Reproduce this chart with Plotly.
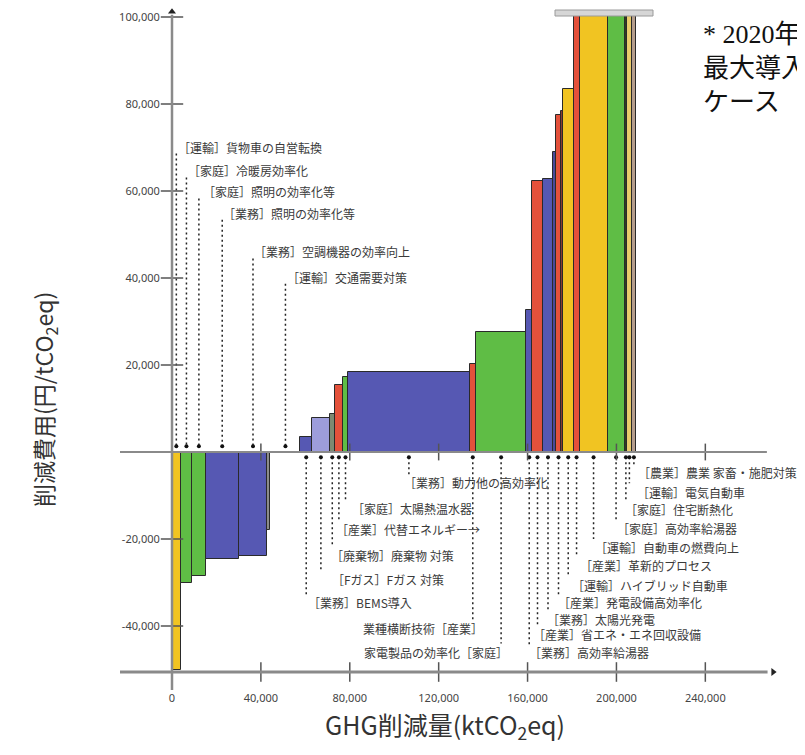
import plotly.graph_objects as go

# ---------------- data ----------------
sectors = ["運輸", "家庭", "家庭", "業務", "業務", "その他", "運輸", "業務", "Fガス", "廃棄物",
           "産業", "家庭", "業務", "産業", "家庭", "業務", "産業", "業務", "業務", "産業",
           "産業", "運輸", "産業", "運輸", "家庭", "家庭", "運輸", "農業"]
reduction_kt = [3900, 5200, 6000, 15000, 12700, 1500, 13500, 5200, 8000, 2250,
                3700, 2250, 54800, 2700, 22800, 2500, 4950, 4500, 1500, 1950,
                1000, 4800, 2700, 12600, 7650, 1200, 1950, 2100]
cost_yen = [-50000, -30000, -28500, -24500, -24000, -18000, 0, 3400, 7750, 8650,
            15400, 17300, 18450, 20150, 27650, 32650, 62300, 62750, 69000, 77500,
            78500, 83500, 100500, 100500, 100500, 100500, 100500, 100500]

x_ticks = [0, 40000, 80000, 120000, 160000, 200000, 240000]
x_tick_text = ["0", "40,000", "80,000", "120,000", "160,000", "200,000", "240,000"]
y_ticks = [-40000, -20000, 20000, 40000, 60000, 80000, 100000]
y_tick_text = ["-40,000", "-20,000", "20,000", "40,000", "60,000", "80,000", "100,000"]

# labels: (bar index, text)
label_bar = [0, 1, 2, 3, 4, 6,
             12, 11, 10, 9, 8, 7, 13, 14,
             15, 16, 17, 19, 21, 22, 23, 24, 25, 26, 27]
label_text = ["［運輸］貨物車の自営転換", "［家庭］冷暖房効率化", "［家庭］照明の効率化等",
              "［業務］照明の効率化等", "［業務］空調機器の効率向上", "［運輸］交通需要対策",
              "［業務］動力他の高効率化", "［家庭］太陽熱温水器", "［産業］代替エネルギー→",
              "［廃棄物］廃棄物 対策", "［Fガス］Fガス 対策", "［業務］BEMS導入",
              "業種横断技術［産業］", "家電製品の効率化［家庭］",
              "［業務］高効率給湯器", "［産業］省エネ・エネ回収設備", "［業務］太陽光発電",
              "［産業］発電設備高効率化", "［運輸］ハイブリッド自動車", "［産業］革新的プロセス",
              "［運輸］自動車の燃費向上", "［家庭］高効率給湯器", "［家庭］住宅断熱化",
              "［運輸］電気自動車", "［農業］農業 家畜・施肥対策"]

# ---------------- layout / style ----------------
sector_color = {"運輸": "#f1c422", "家庭": "#5fbd45", "業務": "#5658b3", "産業": "#e4513b",
                "Fガス": "#9d9ddb", "廃棄物": "#7d8a72", "その他": "#8c8c8c", "農業": "#b59d8c"}
bar_colors = [sector_color[s] for s in sectors]
bar_colors[18] = "#4a4a9a"
bar_colors[20] = "#8a3a30"
bar_colors[25] = "#2f3d1f"
bar_colors[26] = "#e9cb6a"

label_y = [70100, 64600, 59800, 54900, 46000, 40200,
           -7100, -12900, -17900, -23700, -29200, -34700, -40500, -46000,
           -46200, -42000, -38400, -34700, -30600, -26200, -22000, -17700, -13300, -9200, -4800]
label_anchor = ["left"] * 12 + ["right", "right"] + ["left"] * 11
label_dx = [0, 0, 2, -1, -1, 0,
            -7, 4, -5, -3, 9, 0, 12, 9,
            -2, -7, -3, -3, 2, 1, -1, -1, -3, 6, 2]
n_top = 6

# page is drawn with an 8px body margin -> figure is 8px smaller
W, H = 797, 747
ML, MR, MT, MB = 92, 0, 0, 50
X_MIN, X_MAX = -32400, 284850
Y_MIN, Y_MAX = -58161, 102069
Y_BOTTOM_AXIS = -50575
X_LINE_START = -23400

pw, ph = W - ML - MR, H - MT - MB


def px_to_paper_x(px):
    return (px - ML) / pw


def px_to_paper_y(py):
    return (H - MB - py) / ph


# ---------------- geometry from data ----------------
lefts = []
acc = 0
for w in reduction_kt:
    lefts.append(acc)
    acc += w
centers = [l + w / 2 for l, w in zip(lefts, reduction_kt)]

fig = go.Figure()

fig.add_trace(go.Bar(
    x=centers, y=cost_yen, width=reduction_kt, base=0,
    marker=dict(color=bar_colors, line=dict(color="#2a2a2a", width=1)),
    hoverinfo="skip", showlegend=False,
))

# leader lines
lx, ly, mx, my = [], [], [], []
for i, (b, yv) in enumerate(zip(label_bar, label_y)):
    cx = centers[b]
    if i < n_top:
        lx += [cx, cx, None]
        ly += [yv - 1500, 1300, None]
        mx.append(cx); my.append(1300)
    else:
        lx += [cx, cx, None]
        ly += [-1200, yv + 2000, None]
        mx.append(cx); my.append(-1200)
fig.add_trace(go.Scatter(x=lx, y=ly, mode="lines",
                         line=dict(color="#222222", width=1.5, dash="2px,3px"),
                         hoverinfo="skip", showlegend=False))
fig.add_trace(go.Scatter(x=mx, y=my, mode="markers",
                         marker=dict(color="#111111", size=4),
                         hoverinfo="skip", showlegend=False))

# axis lines
axis_col = "#8a8a8a"
fig.add_shape(type="line", x0=0, x1=0, y0=-54700, y1=100500, line=dict(color=axis_col, width=2.5))
fig.add_shape(type="line", x0=X_LINE_START, x1=267700, y0=0, y1=0, line=dict(color=axis_col, width=2))
fig.add_shape(type="line", x0=X_LINE_START, x1=268000, y0=Y_BOTTOM_AXIS, y1=Y_BOTTOM_AXIS,
              line=dict(color=axis_col, width=3))
# off-scale cap
fig.add_shape(type="rect", x0=172350, x1=216450, y0=100230, y1=101610,
              fillcolor="#d6d6d6", line=dict(color="#9a9a9a", width=1))

# tick marks (crossing)
tick_col = "#555555"
fig.add_trace(go.Scatter(x=x_ticks[1:], y=[0] * (len(x_ticks) - 1), mode="markers",
                         marker=dict(symbol="line-ns-open", size=12, color=tick_col,
                                     line=dict(color=tick_col, width=1.5)),
                         hoverinfo="skip", showlegend=False))
fig.add_trace(go.Scatter(x=x_ticks, y=[Y_BOTTOM_AXIS] * len(x_ticks), mode="markers",
                         marker=dict(symbol="line-ns-open", size=14, color=tick_col,
                                     line=dict(color=tick_col, width=1.5)),
                         hoverinfo="skip", showlegend=False))
fig.add_trace(go.Scatter(x=[0] * len(y_ticks), y=y_ticks, mode="markers",
                         marker=dict(symbol="line-ew-open", size=16, color=tick_col,
                                     line=dict(color=tick_col, width=1.5)),
                         hoverinfo="skip", showlegend=False))
# arrow heads
fig.add_trace(go.Scatter(x=[0, 270500], y=[101200, Y_BOTTOM_AXIS], mode="markers",
                         marker=dict(symbol=["triangle-up", "triangle-right"], size=7, color="#222"),
                         hoverinfo="skip", showlegend=False))

label_font = dict(family="Noto Sans CJK JP", size=12, color="#3a3a3a")
for b, txt, yv, anc, dx in zip(label_bar, label_text, label_y, label_anchor, label_dx):
    fig.add_annotation(x=centers[b], y=yv, xref="x", yref="y", text=txt, showarrow=False,
                       xanchor=anc, yanchor="middle", xshift=dx, font=label_font)

fig.add_annotation(xref="paper", yref="paper", x=px_to_paper_x(36), y=px_to_paper_y(392),
                   xanchor="center", yanchor="middle",
                   text="削減費用(円/tCO<sub>2</sub>eq)", textangle=-90, showarrow=False,
                   font=dict(family="Noto Sans CJK JP", size=23, color="#333"))
fig.add_annotation(xref="paper", yref="paper", x=px_to_paper_x(315), y=px_to_paper_y(718),
                   xanchor="left", yanchor="middle",
                   text="GHG削減量(ktCO<sub>2</sub>eq)", showarrow=False,
                   font=dict(family="Noto Sans CJK JP", size=25, color="#333"))
fig.add_annotation(xref="paper", yref="paper", x=px_to_paper_x(693), y=px_to_paper_y(10),
                   xanchor="left", yanchor="top", align="left",
                   text="* 2020年<br>最大導入<br>ケース", showarrow=False,
                   font=dict(family="Liberation Serif, Noto Sans CJK JP", size=26, color="#111"))

fig.update_layout(
    width=W, height=H, margin=dict(l=ML, r=MR, t=MT, b=MB),
    paper_bgcolor="white", plot_bgcolor="white", barmode="overlay", bargap=0,
    xaxis=dict(range=[X_MIN, X_MAX], showgrid=False, zeroline=False, showline=False,
               tickmode="array", tickvals=x_ticks, ticktext=x_tick_text,
               ticks="outside", ticklen=16, tickcolor="rgba(0,0,0,0)",
               anchor="free", position=px_to_paper_y(664),
               tickfont=dict(family="Noto Sans", size=11, color="#444")),
    yaxis=dict(range=[Y_MIN, Y_MAX], showgrid=False, zeroline=False, showline=False,
               tickmode="array", tickvals=y_ticks, ticktext=y_tick_text,
               ticks="outside", ticklen=10, tickcolor="rgba(0,0,0,0)",
               anchor="free", position=px_to_paper_x(164),
               tickfont=dict(family="Noto Sans", size=11, color="#444")),
)

fig.write_html("out.html")
